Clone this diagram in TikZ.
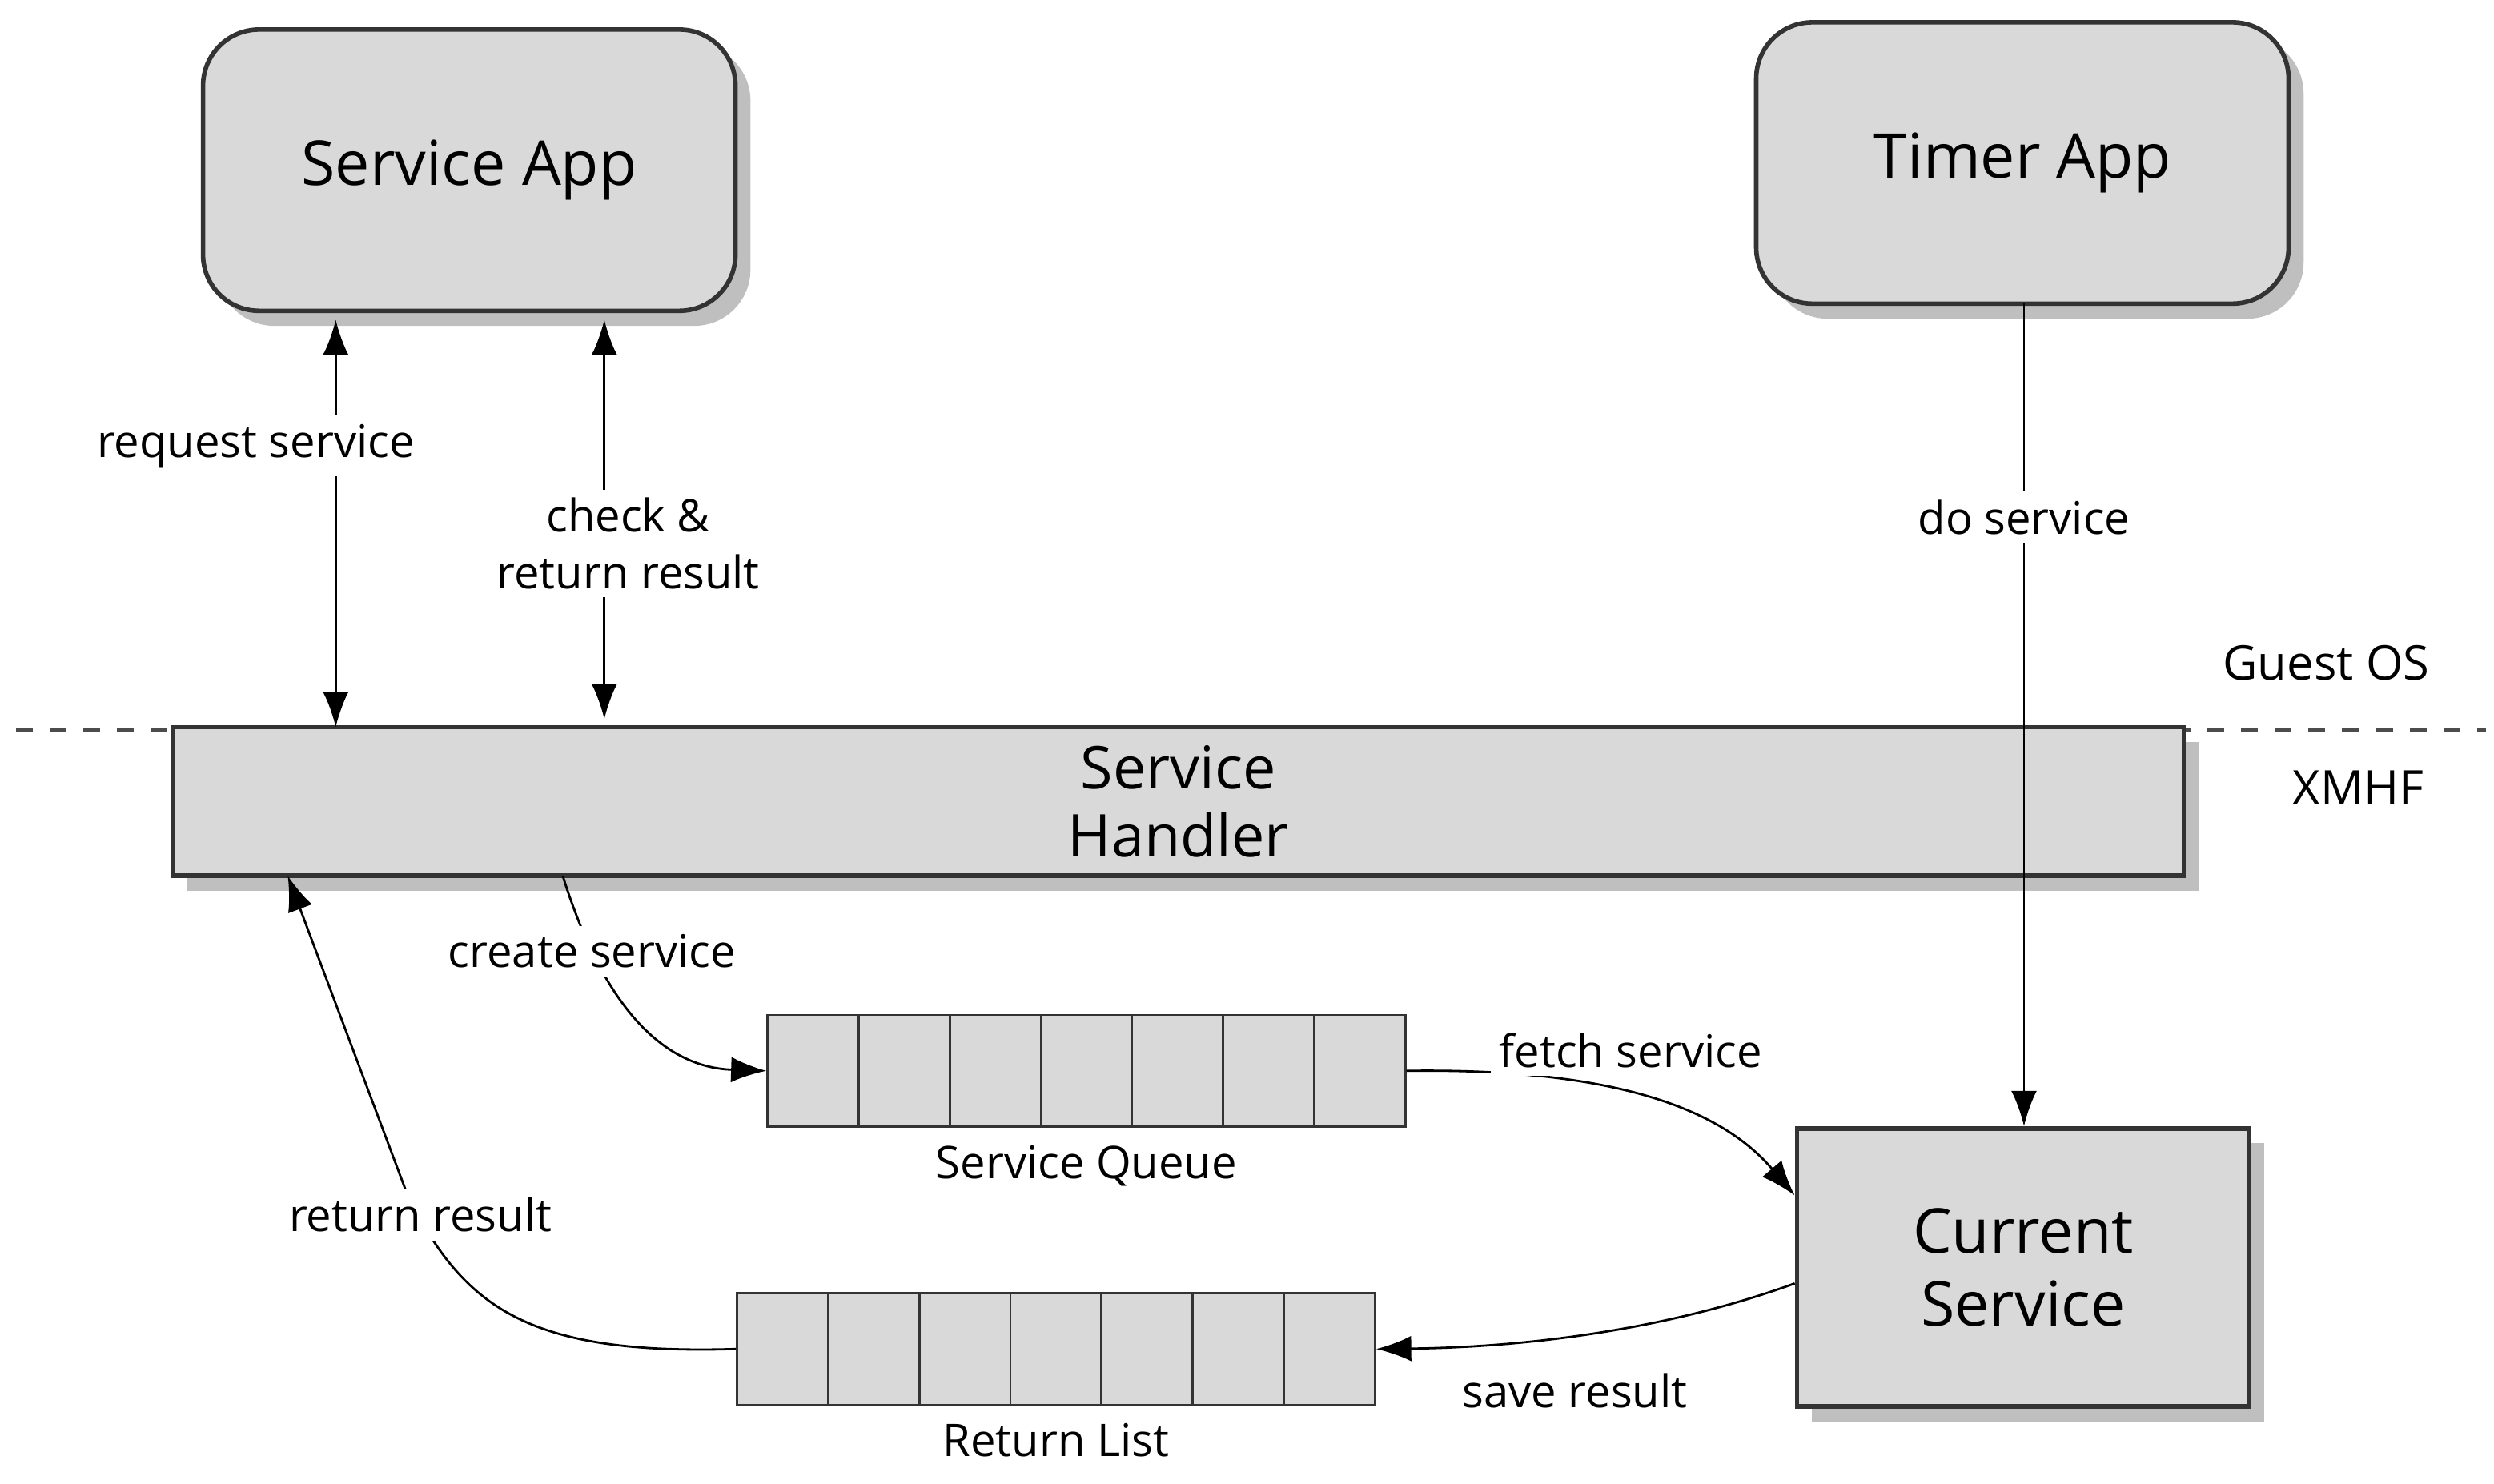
\documentclass[tikz,border=0pt]{standalone}
\usepackage{fontspec}
\setmainfont{Open Sans}
\usetikzlibrary{positioning,shadows,arrows.meta}
\tikzset{
  app/.style={draw=black!80,thick,fill=black!15,rounded corners=10pt,minimum width=3.33cm,minimum height=1.76cm,font=\fontsize{11}{13}\selectfont,drop shadow={opacity=0.5}},
  blk/.style={draw=black!80,thick,fill=black!15,drop shadow={opacity=0.5},align=center},
  cell/.style={draw=black!80,fill=black!15,minimum width=0.57cm,minimum height=0.7cm,inner sep=0pt},
  lbl/.style={fill=white,font=\fontsize{8}{10}\selectfont,inner sep=1.5pt,align=center},
  arr/.style={-{Latex[length=2.2mm,width=1.6mm]}},
  darr/.style={{Latex[length=2.2mm,width=1.6mm]}-{Latex[length=2.2mm,width=1.6mm]}}
}
\begin{document}
\begin{tikzpicture}
  \useasboundingbox (0,0) rectangle (15.6,9.28);
  % apps
  \node[app] (sapp) at (2.935,8.215) {Service App};
  \node[app] (tapp) at (12.65,8.26) {Timer App};
  % layer line
  \draw[dashed,thick,black!70] (0.1,4.71) -- (15.55,4.71);
  \node[font=\fontsize{8.5}{10}\selectfont] (gos) at (14.55,5.13) {Guest OS};
  \node[font=\fontsize{8.5}{10}\selectfont] (xm) at (14.75,4.35) {XMHF};
  % handler
  \node[blk,minimum width=12.58cm,minimum height=0.87cm,font=\fontsize{10.5}{12}\selectfont] (hdl) at (7.37,4.265) {Service\\Handler};
  % queues
  \foreach \i in {0,...,6} {
    \node[cell] (q\i) at (5.085+0.57*\i,2.58) {};
    \node[cell] (r\i) at (4.895+0.57*\i,0.84) {};
  }
  \node[lbl,below=0.05cm of q3] (ql) {Service Queue};
  \node[lbl,below=0.05cm of r3] (rl) {Return List};
  % current service
  \node[blk,minimum width=2.83cm,minimum height=1.74cm,font=\fontsize{11}{13}\selectfont] (cur) at (12.655,1.35) {Current\\Service};
  % connections
  \coordinate (rs1) at (2.1,7.28);
  \coordinate (rs2) at (2.1,4.73);
  \draw[darr] (rs2) -- node[lbl,pos=0.69,xshift=-0.5cm] {request service} (rs1);
  \coordinate (cr1) at (3.78,7.28);
  \coordinate (cr2) at (3.78,4.78);
  \draw[darr] (cr2) -- node[lbl,pos=0.44,xshift=0.15cm] {check \&\\return result} (cr1);
  \coordinate (ds) at (12.66,7.38);
  \draw[arr] (ds) -- node[lbl,pos=0.26] {do service} (cur.north -| ds);
  \coordinate (cs) at (3.52,3.8);
  \draw[arr] (cs) .. controls (3.8,2.9) and (4.2,2.6) .. node[lbl,pos=0.2] {create service} (q0.west);
  \draw[arr] (q6.east) .. controls (10.2,2.6) and (10.8,2.3) .. ([yshift=0.45cm]cur.west);
  \node[lbl] (fs) at (10.2,2.71) {fetch service};
  \draw[arr] ([yshift=-0.1cm]cur.west) .. controls (10.4,0.95) and (9.5,0.85) .. (r6.east);
  \node[lbl] (sr) at (9.85,0.58) {save result};
  \coordinate (rr) at (1.8,3.8);
  \draw[arr] (r0.west) .. controls (3.3,0.8) and (2.9,1.1) .. (2.55,1.8) -- (rr);
  \node[lbl] (rtl) at (2.63,1.68) {return result};
\end{tikzpicture}
\end{document}
